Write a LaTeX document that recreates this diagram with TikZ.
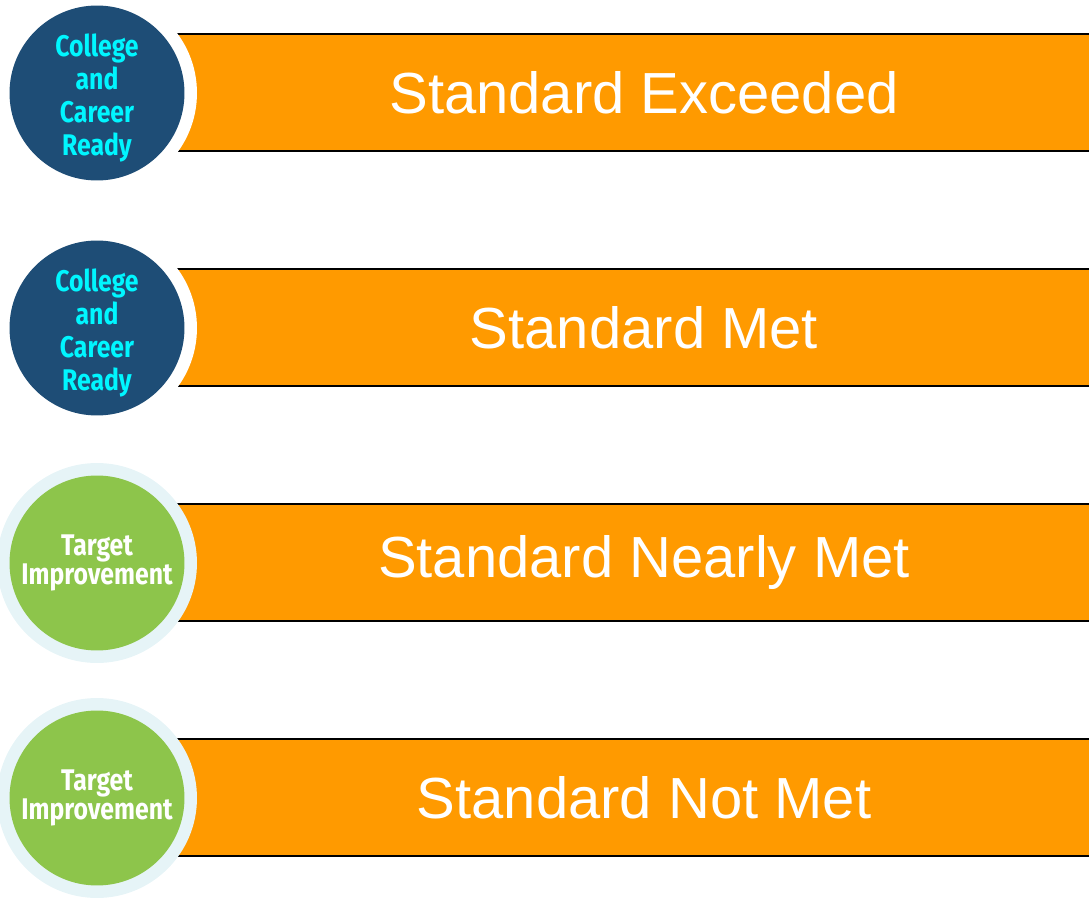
\documentclass[tikz,border=0pt]{standalone}
\usepackage{fontspec}
\setmainfont{Liberation Sans}
\newfontfamily\badgefont[FakeStretch=0.83]{Fira Sans}
\usetikzlibrary{positioning}

\definecolor{barorange}{HTML}{FF9A00}
\definecolor{readyblue}{HTML}{1E4D76}
\definecolor{readycyan}{HTML}{00F6FF}
\definecolor{targetgreen}{HTML}{8DC54B}
\definecolor{haloblue}{HTML}{E6F4F7}

\tikzset{
  bar/.style={fill=barorange, minimum width=18.38cm, minimum height=2.34cm, inner sep=0pt},
  barline/.style={line width=1.1pt, black},
  bartext/.style={white, font=\fontsize{33}{36}\selectfont},
  halo/.style={circle, minimum size=4cm, inner sep=0pt},
  badge/.style={circle, minimum size=3.5cm, inner sep=0pt},
  badgetext/.style={inner sep=0pt, align=center, font=\badgefont\bfseries\fontsize{17}{18.8}\selectfont},
  ready/.style={badge, fill=readyblue},
  readytext/.style={badgetext, text=readycyan},
  target/.style={badge, fill=targetgreen},
  targettext/.style={badgetext, text=white, font=\badgefont\bfseries\fontsize{17}{16}\selectfont}
}

\begin{document}
\begin{tikzpicture}[x=0.02cm, y=-0.02cm]
\useasboundingbox (0,0) rectangle (1089,902);

% orange bars
\node[bar] (exceeded) at (629.5, 92.5) {};
\node[bar] (met) at (629.5, 327.5) {};
\node[bar] (nearly) at (629.5, 562.5) {};
\node[bar] (notmet) at (629.5, 797.5) {};

\draw[barline] (exceeded.north west) -- (exceeded.north east);
\draw[barline] (exceeded.south west) -- (exceeded.south east);
\draw[barline] (met.north west) -- (met.north east);
\draw[barline] (met.south west) -- (met.south east);
\draw[barline] (nearly.north west) -- (nearly.north east);
\draw[barline] (nearly.south west) -- (nearly.south east);
\draw[barline] (notmet.north west) -- (notmet.north east);
\draw[barline] (notmet.south west) -- (notmet.south east);

\node[bartext] (exceededtxt) at (644, 92.5) {Standard Exceeded};
\node[bartext] (mettxt) at (644, 327.5) {Standard Met};
\node[bartext] (nearlytxt) at (644, 562.5) {Standard Nearly Met};
\node[bartext] (notmettxt) at (644, 797.5) {Standard Not Met};

% badges
\node[halo, fill=white] (halo1) at (97, 93) {};
\node[halo, fill=white] (halo2) at (97, 328) {};
\node[halo, fill=haloblue] (halo3) at (97, 563) {};
\node[halo, fill=haloblue] (halo4) at (97, 798) {};

\node[ready] (badge1) at (halo1) {};
\node[ready] (badge2) at (halo2) {};
\node[target] (badge3) at (halo3) {};
\node[target] (badge4) at (halo4) {};

\node[readytext] (badge1txt) at ([shift={(0,5)}]badge1.center) {College\\and\\Career\\Ready};
\node[readytext] (badge2txt) at ([shift={(0,5)}]badge2.center) {College\\and\\Career\\Ready};
\node[targettext] (badge3txt) at (badge3.center) {Target\\Improvement};
\node[targettext] (badge4txt) at (badge4.center) {Target\\Improvement};

\end{tikzpicture}
\end{document}
